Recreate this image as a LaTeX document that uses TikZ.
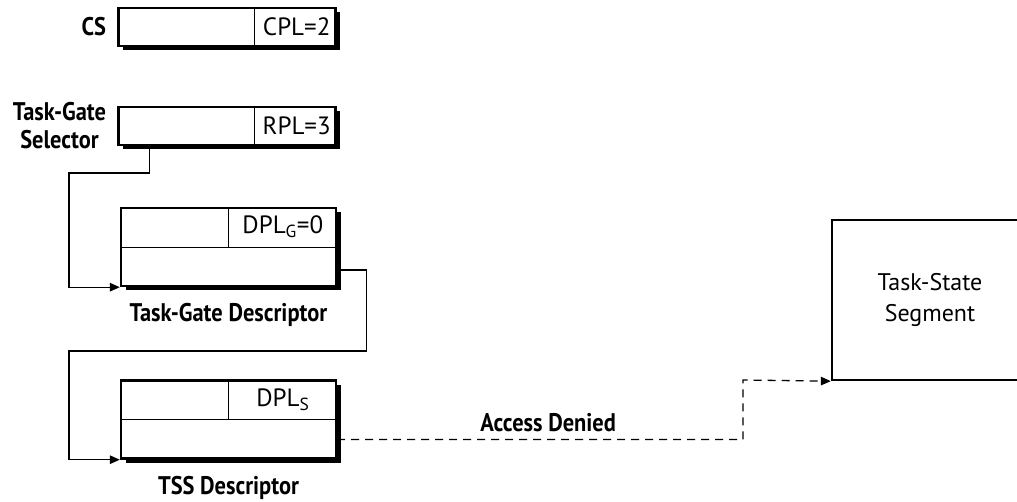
\documentclass[tikz,border=0pt]{standalone}
\usepackage{fontspec}
\setmainfont{PT Sans}
\newfontfamily\labelfont{PT Sans}[FakeStretch=0.88]
\usetikzlibrary{positioning,arrows.meta,calc,shadows}
\tikzset{
  regbox/.style={
    draw,
    rectangle,
    line width=2.4pt,
    fill=white,
    inner sep=0pt,
    drop shadow={shadow xshift=4.5pt, shadow yshift=-4.5pt, opacity=1, fill=black}
  },
  segbox/.style={
    draw,
    rectangle,
    line width=2.4pt,
    align=center,
    font=\fontsize{24}{31}\selectfont
  },
  fieldtext/.style={
    inner sep=0pt,
    font=\fontsize{25}{28}\selectfont
  },
  lbl/.style={
    inner sep=0pt,
    align=center,
    font=\labelfont\fontsize{25.5}{28}\selectfont\bfseries
  },
  divline/.style={
    line width=0.9pt
  },
  conn/.style={
    line width=1.3pt,
    -{Triangle[length=10pt,width=8.5pt]}
  },
  denied/.style={
    conn,
    dash pattern=on 8pt off 6pt
  }
}
\begin{document}
\begin{tikzpicture}[x=1pt, y=-1pt]
    \useasboundingbox (0,0) rectangle (1017,502);

    % selectors
    \node[regbox, minimum width=217pt, minimum height=38pt] (cs) at (227,27) {};
    \node[regbox, minimum width=217pt, minimum height=38pt] (sel) at (227,126) {};
    \draw[divline] ($(cs.north west)+(137,0)$) -- ($(cs.south west)+(137,0)$);
    \draw[divline] ($(sel.north west)+(137,0)$) -- ($(sel.south west)+(137,0)$);
    \node[fieldtext] (cpl) at ($(cs.east)+(-40,0)$) {CPL=2};
    \node[fieldtext] (rpl) at ($(sel.east)+(-40,0)$) {RPL=3};
    \node[lbl, left=11pt of cs] (cslbl) {CS};
    \node[lbl, left=11pt of sel] (sellbl) {Task-Gate\\Selector};

    % descriptors
    \node[regbox, minimum width=215pt, minimum height=78pt] (gatedesc) at (228.5,247) {};
    \node[regbox, minimum width=215pt, minimum height=78pt] (tssdesc) at (228.5,419.5) {};
    \draw[divline] (gatedesc.west) -- (gatedesc.east);
    \draw[divline] (gatedesc.north) -- (gatedesc.center);
    \draw[divline] (tssdesc.west) -- (tssdesc.east);
    \draw[divline] (tssdesc.north) -- (tssdesc.center);
    \node[fieldtext] (dplg) at ($(gatedesc.north)!0.5!(gatedesc.east)$) {DPL\textsubscript{G}=0};
    \node[fieldtext] (dpls) at ($(tssdesc.north)!0.5!(tssdesc.east)$) {DPL\textsubscript{S}};
    \node[lbl, below=16pt of gatedesc] (gatelbl) {Task-Gate Descriptor};
    \node[lbl, below=16pt of tssdesc] (tsslbl) {TSS Descriptor};

    % task-state segment
    \node[segbox, minimum width=196pt, minimum height=160pt] (tss) at (930,300) {Task-State\\Segment};

    % connectors
    \coordinate (bendA) at (69,173);
    \coordinate (bendB) at (69,351);
    \coordinate (bendC) at (743,380);
    \draw[conn] ([xshift=32pt]sel.south west) |- (bendA) |- (gatedesc.south west);
    \draw[conn] ($(gatedesc.east)+(0,23)$) -- ++(29,0) |- (bendB) |- (tssdesc.south west);
    \draw[denied] ($(tssdesc.east)+(0,20)$) -| node[pos=0.26, above=7pt, lbl] (deniedlbl) {Access Denied} (bendC) -- (tss.south west);

\end{tikzpicture}
\end{document}
